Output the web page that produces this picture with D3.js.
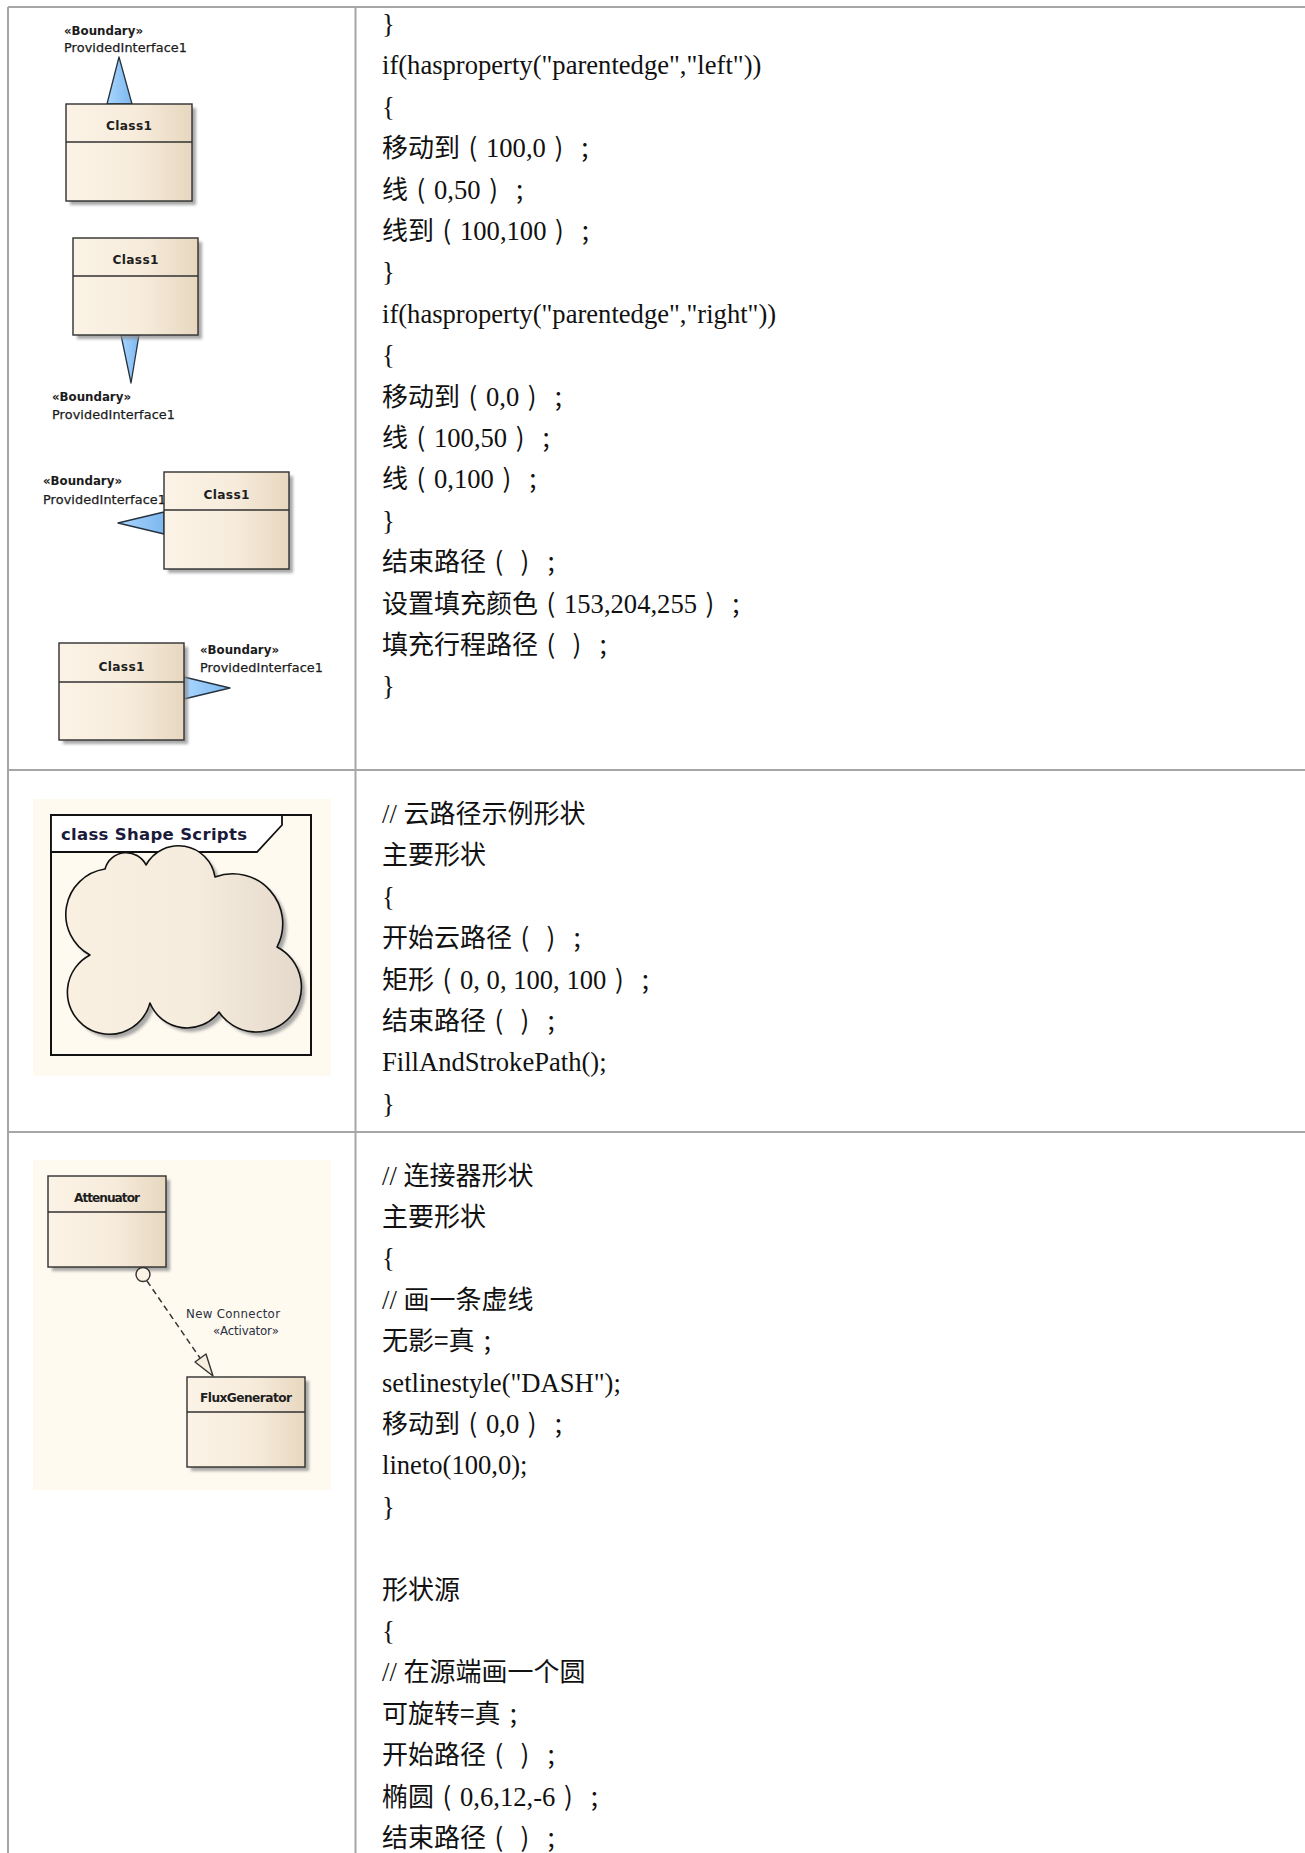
<!DOCTYPE html>
<html>
<head>
<meta charset="utf-8">
<script src="https://cdn.jsdelivr.net/npm/d3@7"></script>
<style>
  html, body { margin: 0; padding: 0; background: #ffffff; }
  svg { display: block; }
</style>
</head>
<body>
<script>
// ---------------- DATA ----------------
const codeRow1 = [
  "}",
  "if(hasproperty(\"parentedge\",\"left\"))",
  "{",
  "移动到（100,0）；",
  "线（0,50）；",
  "线到（100,100）；",
  "}",
  "if(hasproperty(\"parentedge\",\"right\"))",
  "{",
  "移动到（0,0）；",
  "线（100,50）；",
  "线（0,100）；",
  "}",
  "结束路径（）；",
  "设置填充颜色（153,204,255）；",
  "填充行程路径（）；",
  "}"
];
const codeRow2 = [
  "// 云路径示例形状",
  "主要形状",
  "{",
  "开始云路径（）；",
  "矩形（0, 0, 100, 100）；",
  "结束路径（）；",
  "FillAndStrokePath();",
  "}"
];
const codeRow3 = [
  "// 连接器形状",
  "主要形状",
  "{",
  "// 画一条虚线",
  "无影=真；",
  "setlinestyle(\"DASH\");",
  "移动到（0,0）；",
  "lineto(100,0);",
  "}",
  "",
  "形状源",
  "{",
  "// 在源端画一个圆",
  "可旋转=真；",
  "开始路径（）；",
  "椭圆（0,6,12,-6）；",
  "结束路径（）；"
];
const classNames = ["Class1", "Class1", "Class1", "Class1"];
const interfaceStereotypes = ["«Boundary»", "«Boundary»", "«Boundary»", "«Boundary»"];
const interfaceNames = ["ProvidedInterface1", "ProvidedInterface1", "ProvidedInterface1", "ProvidedInterface1"];
const frameTitle = "class Shape Scripts";
const connectorClasses = ["Attenuator", "FluxGenerator"];
const connectorLabels = ["New Connector", "«Activator»"];

// ---------------- LAYOUT ----------------
const W = 1305, H = 1853;
const lineStep = 41.4;
const textX = 382;
const rows = [
  { lines: codeRow1, y0: 33 },
  { lines: codeRow2, y0: 823 },
  { lines: codeRow3, y0: 1184.5 }
];
const grid = { left: 8, top: 7, col: 355.5, rowLines: [770, 1132] };

const ifaceLayout = [
  { box: [66, 104, 126, 97, 38], tb: 26, tri: [[107,104],[132,104],[119,57]], lx: 64, ly: [34.5, 51.5] },
  { box: [73, 238, 125, 97, 38], tb: 26, tri: [[121,335],[139,335],[131,383]], lx: 52, ly: [400.5, 418.5] },
  { box: [164, 472, 125, 97, 38], tb: 26.5, tri: [[164,512],[164,534],[118,523]], lx: 43, ly: [484.5, 503.5] },
  { box: [59, 643, 125, 97, 39], tb: 27.5, tri: [[184,677],[184,699],[230,688]], lx: 200, ly: [653.5, 671.5] }
];

const svg = d3.select("body").append("svg")
  .attr("width", W).attr("height", H)
  .attr("viewBox", `0 0 ${W} ${H}`);

const defs = svg.append("defs");
const gBox = defs.append("linearGradient").attr("id", "boxGrad").attr("x1", "0").attr("x2", "1").attr("y1", "0").attr("y2", "0");
gBox.append("stop").attr("offset", "0%").attr("stop-color", "#fbf3e6");
gBox.append("stop").attr("offset", "55%").attr("stop-color", "#f7ecdc");
gBox.append("stop").attr("offset", "100%").attr("stop-color", "#e7d7bf");
const gTri = defs.append("linearGradient").attr("id", "triGrad").attr("x1", "0").attr("x2", "1").attr("y1", "0").attr("y2", "0");
gTri.append("stop").attr("offset", "0%").attr("stop-color", "#a9d6ff");
gTri.append("stop").attr("offset", "100%").attr("stop-color", "#7db7ee");
const gCloud = defs.append("linearGradient").attr("id", "cloudGrad").attr("x1", "0").attr("x2", "1").attr("y1", "0").attr("y2", "0");
gCloud.append("stop").attr("offset", "0%").attr("stop-color", "#faf0e2");
gCloud.append("stop").attr("offset", "55%").attr("stop-color", "#f6ecdd");
gCloud.append("stop").attr("offset", "100%").attr("stop-color", "#e4d9cb");
defs.append("filter").attr("id", "blur").attr("x", "-20%").attr("y", "-20%").attr("width", "140%").attr("height", "140%")
  .append("feGaussianBlur").attr("stdDeviation", 1.4);

// ---------------- TABLE GRID ----------------
const gridG = svg.append("g").attr("stroke", "#a6a6a6").attr("stroke-width", 2);
gridG.append("line").attr("x1", grid.left).attr("x2", W).attr("y1", grid.top).attr("y2", grid.top);
gridG.append("line").attr("x1", grid.left).attr("x2", grid.left).attr("y1", grid.top).attr("y2", H);
gridG.append("line").attr("x1", grid.col).attr("x2", grid.col).attr("y1", grid.top).attr("y2", H);
gridG.selectAll("line.row").data(grid.rowLines).enter().append("line").attr("class", "row")
  .attr("x1", grid.left).attr("x2", W).attr("y1", d => d).attr("y2", d => d);

// ---------------- CODE TEXT ----------------
const serif = "'Liberation Serif', 'Noto Sans CJK SC', serif";
const cjk = "'Noto Sans CJK SC', sans-serif";
const serifSize = 26.6, cjkSize = 26, cell = 26;
const fwMap = { "（": "(", "）": ")", "；": ";" };

const probe = svg.append("text").attr("font-family", cjk).attr("font-size", cjkSize).attr("x", -500).attr("y", -500);
const fwPad = {};
Object.keys(fwMap).forEach(k => {
  probe.text(fwMap[k]);
  const w = probe.node().getComputedTextLength() || 8;
  fwPad[k] = (cell - w) / 2;
});
probe.remove();

function tokens(str) {
  const out = [];
  const re = /([（）；])|(=+)|([\u4e00-\u9fff]+)|([^（）；=\u4e00-\u9fff]+)/g;
  let m, pending = 0;
  while ((m = re.exec(str)) !== null) {
    if (m[1]) {
      const p = fwPad[m[1]];
      out.push({ s: fwMap[m[1]], f: cjk, size: cjkSize, dx: pending + p });
      pending = p;
    } else if (m[2] || m[3]) {
      out.push({ s: m[0], f: cjk, size: cjkSize, dx: pending });
      pending = 0;
    } else {
      out.push({ s: m[0], f: serif, size: serifSize, dx: pending });
      pending = 0;
    }
  }
  return out;
}
rows.forEach(r => {
  const y = d3.scaleLinear().domain([0, r.lines.length - 1]).range([r.y0, r.y0 + lineStep * (r.lines.length - 1)]);
  const t = svg.append("g").attr("fill", "#111")
    .selectAll("text").data(r.lines).enter().append("text")
    .attr("x", textX).attr("y", (d, i) => y(i)).attr("font-family", serif).attr("font-size", serifSize)
    .style("white-space", "pre");
  t.selectAll("tspan").data(d => tokens(d)).enter().append("tspan")
    .attr("font-family", d => d.f).attr("font-size", d => d.size)
    .attr("dx", d => d.dx || null).text(d => d.s);
});

// ---------------- DIAGRAM HELPERS ----------------
const sans = "'DejaVu Sans', Verdana, sans-serif";
function classBox(g, b, name, tb, len) {
  const [x, y, w, h, hh] = b;
  g.append("rect").attr("x", x + 4).attr("y", y + 4).attr("width", w).attr("height", h)
    .attr("fill", "#8c8c8c").attr("opacity", 0.75).attr("filter", "url(#blur)");
  g.append("rect").attr("x", x).attr("y", y).attr("width", w).attr("height", h)
    .attr("fill", "url(#boxGrad)").attr("stroke", "#303030").attr("stroke-width", 1.4);
  g.append("line").attr("x1", x).attr("x2", x + w).attr("y1", y + hh).attr("y2", y + hh)
    .attr("stroke", "#303030").attr("stroke-width", 1.3);
  g.append("text").attr("x", x + w / 2).attr("y", y + tb).attr("text-anchor", "middle")
    .attr("font-family", sans).attr("font-weight", "bold").attr("font-size", 12.2)
    .attr("fill", "#1e1e1e").attr("textLength", len).attr("lengthAdjust", "spacing").text(name);
}
function label(g, x, y, txt, bold, len, size) {
  g.append("text").attr("x", x).attr("y", y).attr("font-family", sans)
    .attr("font-weight", bold ? "bold" : "normal").attr("font-size", size)
    .attr("fill", "#1b1b1b").attr("stroke", "#1b1b1b").attr("stroke-width", bold ? 0 : 0.25)
    .attr("textLength", len).attr("lengthAdjust", "spacing").text(txt);
}

// ---------------- ROW 1 DIAGRAMS ----------------
const d1 = svg.append("g");
ifaceLayout.forEach((L, i) => {
  label(d1, L.lx, L.ly[0], interfaceStereotypes[i], true, 79, 11.8);
  label(d1, L.lx, L.ly[1], interfaceNames[i], false, 123, 12.8);
  d1.append("path").attr("d", d3.line()(L.tri) + "Z")
    .attr("fill", "url(#triGrad)").attr("stroke", "#26323e").attr("stroke-width", 1.3).attr("stroke-linejoin", "round");
  classBox(d1, L.box, classNames[i], L.tb, 46);
});

// ---------------- ROW 2: CLOUD ----------------
const d2 = svg.append("g");
d2.append("rect").attr("x", 33).attr("y", 799).attr("width", 298).attr("height", 277).attr("fill", "#fffaf0");
d2.append("rect").attr("x", 51).attr("y", 815).attr("width", 260).attr("height", 240)
  .attr("fill", "none").attr("stroke", "#111").attr("stroke-width", 2);
d2.append("path").attr("d", "M51,815H282V825L257,852H51Z")
  .attr("fill", "#ffffff").attr("stroke", "#111").attr("stroke-width", 1.8);
d2.append("text").attr("x", 61).attr("y", 839.5).attr("font-family", sans).attr("font-weight", "bold")
  .attr("font-size", 16.5).attr("fill", "#1a1a3a").attr("textLength", 186).attr("lengthAdjust", "spacing").text(frameTitle);
const cloudD = "M90,955 A46,46 0 0 1 105,869 A22,22 0 0 1 146,865 A37,37 0 0 1 215,877 " +
  "A50,50 0 0 1 277,947 A45,45 0 1 1 219,1012 A40,40 0 0 1 150,1003 A42,42 0 1 1 90,955 Z";
d2.append("path").attr("d", cloudD).attr("transform", "translate(4,4)")
  .attr("fill", "#8c8c8c").attr("opacity", 0.75).attr("filter", "url(#blur)");
d2.append("path").attr("d", cloudD).attr("fill", "url(#cloudGrad)")
  .attr("stroke", "#111").attr("stroke-width", 1.6).attr("stroke-linejoin", "round");

// ---------------- ROW 3: CONNECTOR ----------------
const d3g = svg.append("g");
d3g.append("rect").attr("x", 33).attr("y", 1160).attr("width", 298).attr("height", 330).attr("fill", "#fffaf0");
classBox(d3g, [48, 1176, 118, 91, 36], connectorClasses[0], 25.5, 66);
classBox(d3g, [187, 1377, 118, 90, 35], connectorClasses[1], 24.5, 92);
d3g.append("line").attr("x1", 147).attr("y1", 1281).attr("x2", 200).attr("y2", 1358)
  .attr("stroke", "#333").attr("stroke-width", 1.5).attr("stroke-dasharray", "6,4");
d3g.append("circle").attr("cx", 143).attr("cy", 1274.5).attr("r", 7)
  .attr("fill", "#fbf3e6").attr("stroke", "#333").attr("stroke-width", 1.4);
d3g.append("path").attr("d", d3.line()([[195,1362],[206,1354],[213,1376]]) + "Z")
  .attr("fill", "#f7eedd").attr("stroke", "#333").attr("stroke-width", 1.4).attr("stroke-linejoin", "round");
d3g.append("text").attr("x", 280).attr("y", 1318).attr("text-anchor", "end").attr("font-family", sans)
  .attr("font-size", 11.8).attr("fill", "#2a3040").attr("textLength", 94).attr("lengthAdjust", "spacing").text(connectorLabels[0]);
d3g.append("text").attr("x", 279).attr("y", 1335).attr("text-anchor", "end").attr("font-family", sans)
  .attr("font-size", 11.8).attr("fill", "#2a3040").attr("textLength", 66).attr("lengthAdjust", "spacing").text(connectorLabels[1]);
</script>
</body>
</html>
